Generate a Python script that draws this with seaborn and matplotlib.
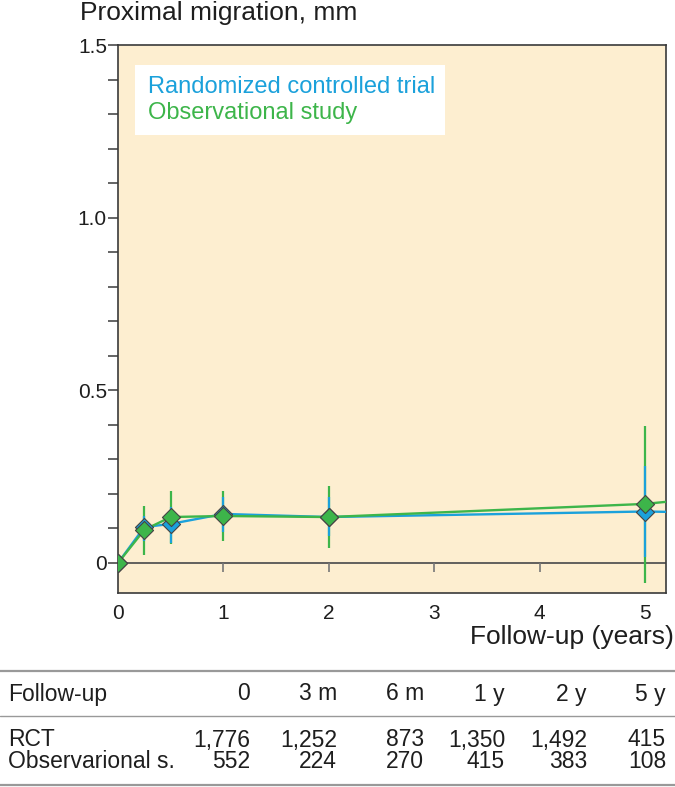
import matplotlib
matplotlib.use("Agg")
import matplotlib.pyplot as plt
import numpy as np
import pandas as pd
import seaborn as sns

# ── Data ─────────────────────────────────────────────────────────────────────
YEARS = [0, 0.25, 0.5, 1, 2, 5]
RCT_MEAN = [0, 0.104, 0.113, 0.142, 0.133, 0.149]
RCT_LO = [0, 0.064, 0.058, 0.090, 0.078, 0.017]
RCT_HI = [0, 0.136, 0.162, 0.190, 0.190, 0.280]
OBS_MEAN = [0, 0.096, 0.133, 0.136, 0.133, 0.171]
OBS_LO = [0, 0.023, 0.055, 0.064, 0.043, -0.058]
OBS_HI = [0, 0.165, 0.209, 0.208, 0.223, 0.397]
# lines continue beyond 5 years and are cut at the panel edge
EDGE_X = 5.2
RCT_EDGE = 0.148
OBS_EDGE = 0.177

TABLE_COLS = ["0", "3 m", "6 m", "1 y", "2 y", "5 y"]
RCT_N = ["1,776", "1,252", "873", "1,350", "1,492", "415"]
OBS_N = ["552", "224", "270", "415", "383", "108"]

BLUE = "#1ba1db"
GREEN = "#3db54a"
PANEL = "#fdeed0"
DARK = "#3a3a3a"
TXT = "#1e1e1e"

sns.set_theme(style="ticks")
plt.rcParams["font.family"] = ["Liberation Sans", "DejaVu Sans"]

fig = plt.figure(figsize=(6.75, 7.87), dpi=100)
ax = fig.add_axes([118 / 675, 1 - 593 / 787, 548 / 675, 548 / 787])
ax.set_facecolor(PANEL)

# error bars: green behind blue
ax.vlines(YEARS[1:], OBS_LO[1:], OBS_HI[1:], color=GREEN, lw=1.6, zorder=2)
ax.vlines(YEARS[1:], RCT_LO[1:], RCT_HI[1:], color=BLUE, lw=1.6, zorder=3)

rct = pd.DataFrame({"x": YEARS + [EDGE_X], "y": RCT_MEAN + [RCT_EDGE]})
obs = pd.DataFrame({"x": YEARS + [EDGE_X], "y": OBS_MEAN + [OBS_EDGE]})
sns.lineplot(data=rct, x="x", y="y", color=BLUE, lw=1.7, ax=ax, zorder=4)
sns.lineplot(data=obs, x="x", y="y", color=GREEN, lw=1.7, ax=ax, zorder=5)
ax.scatter(YEARS, RCT_MEAN, marker="D", s=85, color=BLUE, edgecolor="#444444",
           linewidth=0.8, zorder=6)
ax.scatter(YEARS, OBS_MEAN, marker="D", s=85, color=GREEN, edgecolor="#444444",
           linewidth=0.8, zorder=7)

ax.axhline(0, color="#555555", lw=1.3, zorder=1)
xt = np.arange(1, 6)
ax.vlines(xt, -0.025, 0, color="#777777", lw=1.2, zorder=1)

ax.set_xlim(0, EDGE_X)
ax.set_ylim(-0.087, 1.5)
ax.set_xticks(np.arange(0, 6))
ax.set_xticklabels([str(v) for v in range(6)])
ax.tick_params(axis="x", length=0, pad=8, labelsize=15, labelcolor=TXT)
ax.set_yticks([0, 0.5, 1.0, 1.5])
ax.set_yticklabels(["0", "0.5", "1.0", "1.5"])
ax.set_yticks(np.arange(0, 1.5, 0.1), minor=True)
ax.tick_params(axis="y", which="both", length=7, width=1.1, color=DARK, pad=1)
ax.tick_params(axis="y", which="major", labelsize=15, labelcolor=TXT)
ax.set_xlabel("")
ax.set_ylabel("")
for s in ax.spines.values():
    s.set_color(DARK)
    s.set_linewidth(1.2)

# legend as coloured text in a white box
ax.add_patch(plt.Rectangle((135 / 675, 1 - 135 / 787), 310 / 675, 70 / 787,
                           transform=fig.transFigure, facecolor="white",
                           edgecolor="none", zorder=8))
fig.text(148 / 675, 1 - 87 / 787, "Randomized controlled trial", color=BLUE,
         fontsize=17, va="center", ha="left", zorder=9)
fig.text(148 / 675, 1 - 113 / 787, "Observational study", color=GREEN,
         fontsize=17, va="center", ha="left", zorder=9)

fig.text(80 / 675, 1 - 13 / 787, "Proximal migration, mm", fontsize=19,
         va="center", ha="left", color=TXT)
fig.text(674 / 675, 1 - 637 / 787, "Follow-up (years)", fontsize=19,
         va="center", ha="right", color=TXT)

# ── Table of numbers at risk ────────────────────────────────────────────────
col_x = [250, 337, 424, 505, 587, 666]
for y, lw in [(671, 1.6), (716, 1.0), (785, 1.6)]:
    fig.add_artist(plt.Line2D([0, 1], [1 - y / 787] * 2, color="#999999", lw=lw))
rows = [(694, "Follow-up", TABLE_COLS), (740, "RCT", RCT_N),
        (761, "Observarional s.", OBS_N)]
for y, label, vals in rows:
    fig.text(8 / 675, 1 - y / 787, label, fontsize=16.5, va="center",
             ha="left", color=TXT)
    for cx, v in zip(col_x, vals):
        fig.text(cx / 675, 1 - y / 787, v, fontsize=16.5, va="center",
                 ha="right", color=TXT)

fig.savefig("out.png", dpi=100)
